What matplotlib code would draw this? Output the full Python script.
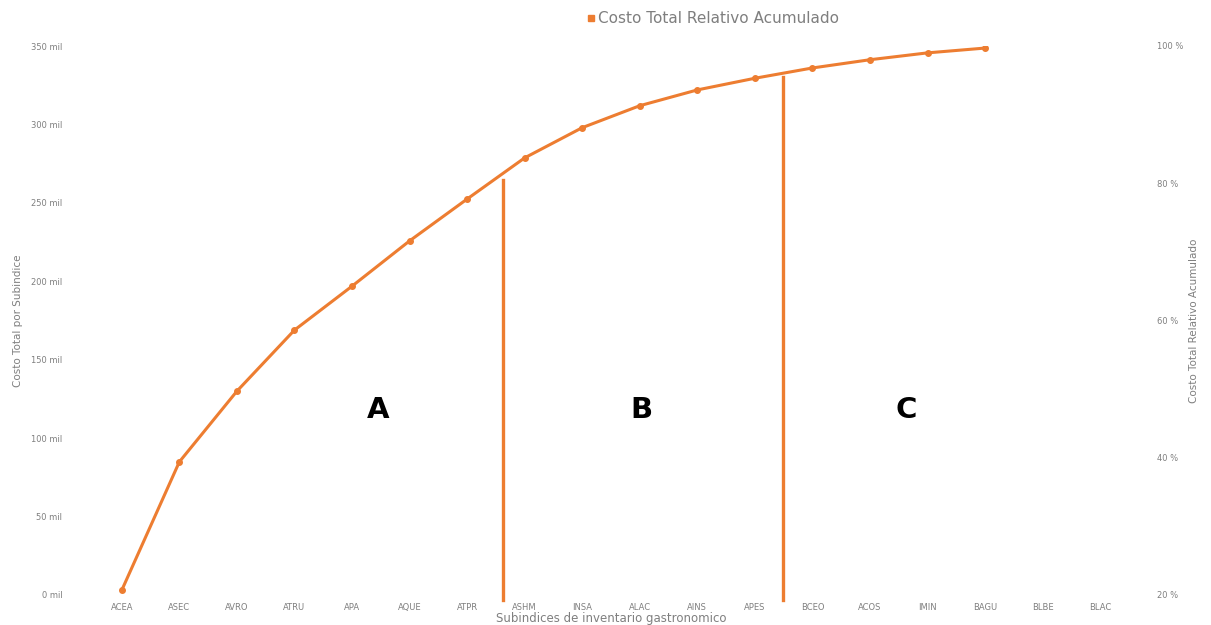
import matplotlib
matplotlib.use("Agg")
import matplotlib.pyplot as plt
from matplotlib.ticker import FuncFormatter

# Subindices del inventario gastronómico
categorias = ["ACEA", "ASEC", "AVRO", "ATRU", "APA", "AQUE", "ATPR", "ASHM", "INSA",
              "ALAC", "AINS", "APES", "BCEO", "ACOS", "IMIN", "BAGU", "BLBE", "BLAC"]
# Costo total relativo acumulado (%)
acumulado = [20.7, 39.4, 49.7, 58.6, 65.0, 71.6, 77.7, 83.7, 88.1,
             91.3, 93.6, 95.3, 96.8, 98.0, 99.0, 99.7]
# Ticks del eje de costo (miles)
costo_ticks = [0, 50, 100, 150, 200, 250, 300, 350]
pct_ticks = [20, 40, 60, 80, 100]
# Cortes de la clasificación ABC
cortes_x = [6.62, 11.48]
cortes_pct = [80.5, 95.5]
clases = ["A", "B", "C"]
clases_x = [4.45, 9.03, 13.63]

naranja = "#ED7D31"
gris = "#7f7f7f"

fig = plt.figure(figsize=(12.11, 6.25), dpi=100)
ax = fig.add_axes([0.0768, 0.048, 0.8555, 0.8784])
ax2 = ax.twinx()

n = len(categorias)
ax.set_xlim(-0.5, n - 0.5)
ax.set_ylim(0, 350)
ax.set_yticks(costo_ticks)
ax.yaxis.set_major_formatter(FuncFormatter(lambda v, p: f"{int(v)} mil"))
ax.set_xticks(range(n))
ax.set_xticklabels(categorias)

ax2.set_ylim(20, 100)
ax2.set_yticks(pct_ticks)
ax2.yaxis.set_major_formatter(FuncFormatter(lambda v, p: f"{int(v)} %"))

for a in (ax, ax2):
    for s in a.spines.values():
        s.set_visible(False)
    a.tick_params(length=0, labelsize=6, labelcolor=gris)
ax.tick_params(axis="y", pad=22)
ax.tick_params(axis="x", pad=6)
ax2.tick_params(axis="y", pad=20)

ax2.plot(range(len(acumulado)), acumulado, color=naranja, lw=2.2,
         marker="o", ms=4.0, label="Costo Total Relativo Acumulado", zorder=3)

for xc, yc in zip(cortes_x, cortes_pct):
    ax2.plot([xc, xc], [yc, 19.2], color=naranja, lw=2.4, clip_on=False, zorder=2)

for lx, txt in zip(clases_x, clases):
    ax2.text(lx, 47, txt, fontsize=21, fontweight="bold", ha="center", va="center",
             color="black")

ax.set_ylabel("Costo Total por Subindice", fontsize=7.5, color=gris, labelpad=6)
ax2.set_ylabel("Costo Total Relativo Acumulado", fontsize=7.5, color=gris, labelpad=4)
ax.set_xlabel("Subindices de inventario gastronomico", fontsize=8.5, color=gris,
              labelpad=0)

leg = ax2.legend(loc="upper center", bbox_to_anchor=(0.598, 1.088), frameon=False,
                 fontsize=11, handlelength=0.6, handletextpad=0.2, markerscale=1.0)
for t in leg.get_texts():
    t.set_color(gris)
for h in leg.get_lines():
    h.set_linestyle("none")
    h.set_marker("s")

fig.text(0.43, 1.006, "Diagrama de Pareto y clasificación ABC", fontsize=16,
         fontweight="bold", ha="center", va="baseline", color="black")

fig.savefig("out.png", dpi=100)
